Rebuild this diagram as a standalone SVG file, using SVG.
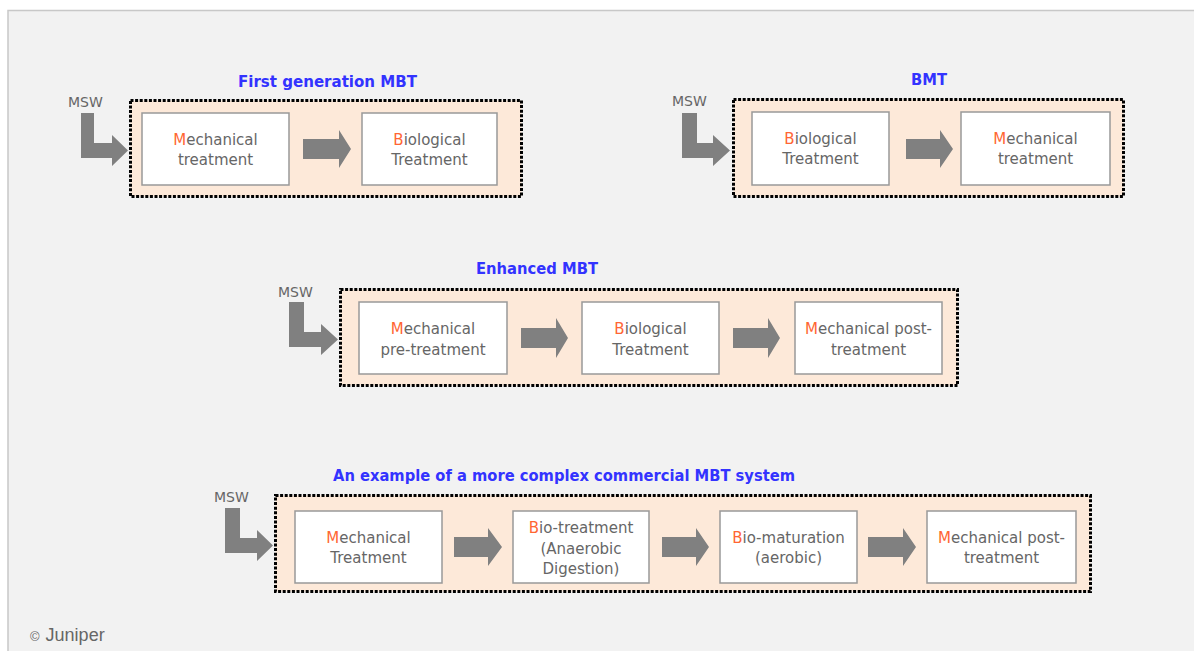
<svg xmlns="http://www.w3.org/2000/svg" width="1194" height="651" viewBox="0 0 1194 651">
<style>
.box{fill:#fff;stroke:#999;stroke-width:1.5}
.grp{fill:#fde9d9;stroke:#000;stroke-width:3;stroke-dasharray:3 1.6}
.t{font-family:"DejaVu Sans",sans-serif;font-size:15px;fill:#666;text-anchor:middle}
.o{fill:#ff6633}
.ttl{font-family:"DejaVu Sans",sans-serif;font-weight:bold;font-size:15px;fill:#3333ff;text-anchor:middle}
.msw{font-family:"DejaVu Sans",sans-serif;font-size:14px;fill:#666}
.arr{fill:#808080}
</style>
<rect x="0" y="0" width="1194" height="651" fill="#fff"/>
<rect x="8" y="10.5" width="1200" height="660" fill="#f2f2f2" stroke="#c8c8c8" stroke-width="1.5"/>

<g id="group-first-generation">
<rect class="grp" x="130.5" y="100.5" width="391" height="96"/>
<text class="ttl" x="327.5" y="87" textLength="179" lengthAdjust="spacingAndGlyphs">First generation MBT</text>
</g>
<g id="group-bmt">
<rect class="grp" x="733.5" y="99.5" width="390" height="97"/>
<text class="ttl" x="929" y="85" textLength="36" lengthAdjust="spacingAndGlyphs">BMT</text>
</g>
<g id="group-enhanced">
<rect class="grp" x="340.5" y="289.5" width="617" height="96"/>
<text class="ttl" x="537" y="274" textLength="122" lengthAdjust="spacingAndGlyphs">Enhanced MBT</text>
</g>
<g id="group-commercial">
<rect class="grp" x="275.5" y="495.5" width="815" height="96"/>
<text class="ttl" x="564" y="481" textLength="462" lengthAdjust="spacingAndGlyphs">An example of a more complex commercial MBT system</text>
</g>

<g id="msw-1"><text class="msw" x="68" y="107">MSW</text></g>
<g id="msw-2"><text class="msw" x="672" y="106">MSW</text></g>
<g id="msw-3"><text class="msw" x="278" y="297">MSW</text></g>
<g id="msw-4"><text class="msw" x="214" y="502">MSW</text></g>

<g id="n1-mech">
<rect class="box" x="142" y="113" width="147" height="72"/>
<text class="t" x="215.5" y="145"><tspan class="o">M</tspan>echanical</text>
<text class="t" x="215.5" y="165">treatment</text>
</g>
<g id="n1-bio">
<rect class="box" x="362" y="113" width="135" height="72"/>
<text class="t" x="429.5" y="145"><tspan class="o">B</tspan>iological</text>
<text class="t" x="429.5" y="165">Treatment</text>
</g>

<g id="n2-bio">
<rect class="box" x="752" y="112" width="137" height="73"/>
<text class="t" x="820.5" y="144"><tspan class="o">B</tspan>iological</text>
<text class="t" x="820.5" y="164">Treatment</text>
</g>
<g id="n2-mech">
<rect class="box" x="961" y="112" width="149" height="73"/>
<text class="t" x="1035.5" y="144"><tspan class="o">M</tspan>echanical</text>
<text class="t" x="1035.5" y="164">treatment</text>
</g>

<g id="n3-mech-pre">
<rect class="box" x="359" y="302" width="148" height="72"/>
<text class="t" x="433" y="334"><tspan class="o">M</tspan>echanical</text>
<text class="t" x="433" y="355">pre-treatment</text>
</g>
<g id="n3-bio">
<rect class="box" x="582" y="302" width="137" height="72"/>
<text class="t" x="650.5" y="334"><tspan class="o">B</tspan>iological</text>
<text class="t" x="650.5" y="355">Treatment</text>
</g>
<g id="n3-mech-post">
<rect class="box" x="795" y="302" width="147" height="72"/>
<text class="t" x="868.5" y="334"><tspan class="o">M</tspan>echanical post-</text>
<text class="t" x="868.5" y="355">treatment</text>
</g>

<g id="n4-mech">
<rect class="box" x="295" y="511" width="147" height="72"/>
<text class="t" x="368.5" y="543"><tspan class="o">M</tspan>echanical</text>
<text class="t" x="368.5" y="563">Treatment</text>
</g>
<g id="n4-bio-treatment">
<rect class="box" x="513" y="511" width="136" height="72"/>
<text class="t" x="581" y="533"><tspan class="o">B</tspan>io-treatment</text>
<text class="t" x="581" y="554">(Anaerobic</text>
<text class="t" x="581" y="574">Digestion)</text>
</g>
<g id="n4-bio-maturation">
<rect class="box" x="720" y="511" width="137" height="72"/>
<text class="t" x="788.5" y="543"><tspan class="o">B</tspan>io-maturation</text>
<text class="t" x="788.5" y="563">(aerobic)</text>
</g>
<g id="n4-mech-post">
<rect class="box" x="927" y="511" width="149" height="72"/>
<text class="t" x="1001.5" y="543"><tspan class="o">M</tspan>echanical post-</text>
<text class="t" x="1001.5" y="563">treatment</text>
</g>

<g id="connectors" class="arr">
<polygon points="81,113 94,113 94,143 112,143 112,135 128,150.5 112,166 112,158 81,158"/>
<polygon points="682,113 697,113 697,143 713,143 713,135 730,150.5 713,166 713,158 682,158"/>
<polygon points="289,302 304,302 304,332 321,332 321,324 338,339.5 321,355 321,347 289,347"/>
<polygon points="225,508 240,508 240,538 257,538 257,530 273,545.5 257,561 257,553 225,553"/>
<polygon points="303,139 339,139 339,130 351,149 339,168 339,159 303,159"/>
<polygon points="906,139 940,139 940,130 953,149 940,168 940,159 906,159"/>
<polygon points="521,328 556,328 556,318 568,338 556,358 556,348 521,348"/>
<polygon points="733,328 768,328 768,318 780,338 768,358 768,348 733,348"/>
<polygon points="454,537 488,537 488,528 502,547 488,566 488,557 454,557"/>
<polygon points="662,537 696,537 696,528 709,547 696,566 696,557 662,557"/>
<polygon points="868,537 903,537 903,528 916,547 903,566 903,557 868,557"/>
</g>

<g id="credit">
<text font-family="Liberation Sans, Arial, sans-serif" fill="#666" x="30" y="641"><tspan font-size="13">©</tspan><tspan font-size="18" dx="6">Juniper</tspan></text>
</g>
</svg>
